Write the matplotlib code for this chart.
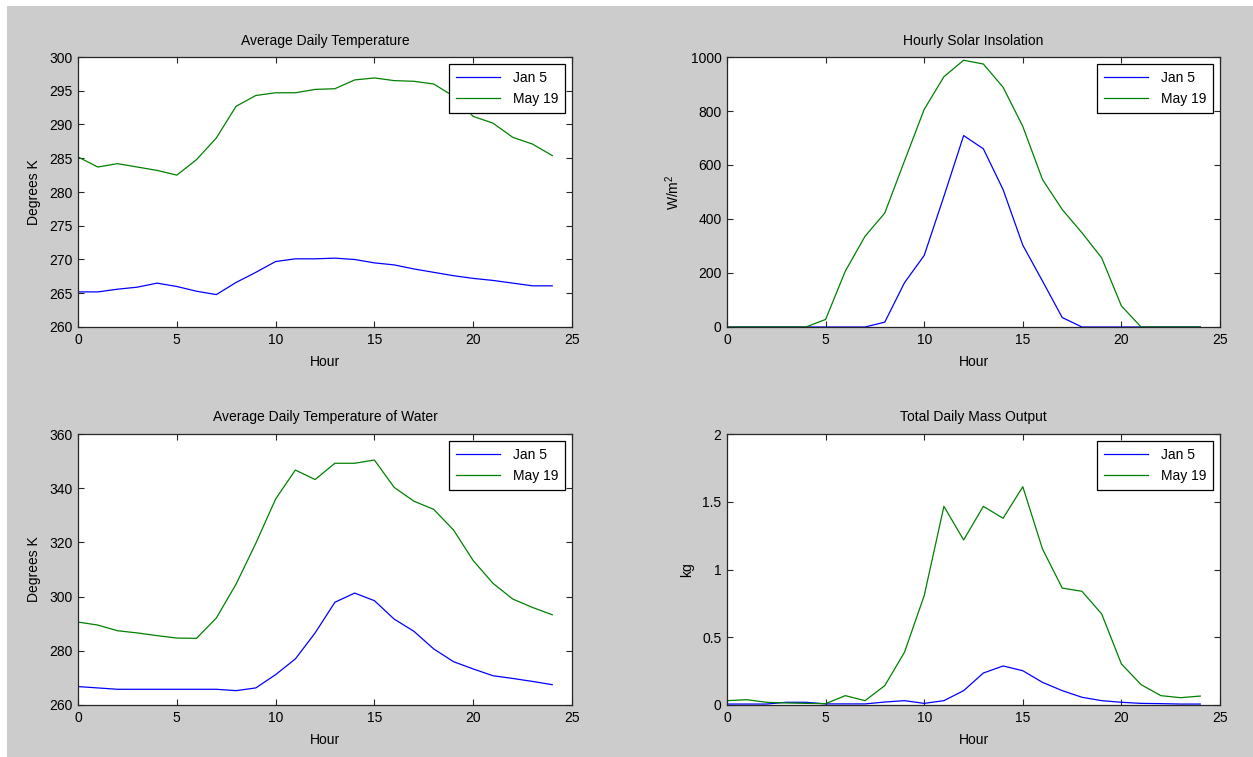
import matplotlib
matplotlib.use("Agg")
import matplotlib.pyplot as plt
from matplotlib.patches import Rectangle

hours = list(range(25))
labels = ["Jan 5", "May 19"]

# average daily air temperature (K)
air_jan = [265.2, 265.2, 265.6, 265.9, 266.5, 266.0, 265.3, 264.8, 266.6, 268.1,
           269.7, 270.1, 270.1, 270.2, 270.0, 269.5, 269.2, 268.6, 268.1, 267.6,
           267.2, 266.9, 266.5, 266.1, 266.1]
air_may = [285.2, 283.7, 284.2, 283.7, 283.2, 282.5, 284.8, 288.0, 292.7, 294.3,
           294.7, 294.7, 295.2, 295.3, 296.6, 296.9, 296.5, 296.4, 296.0, 294.2,
           291.2, 290.2, 288.1, 287.1, 285.4]

# hourly solar insolation (W/m^2)
sun_jan = [0, 0, 0, 0, 0, 0, 0, 0, 18, 164,
           265, 484, 709, 660, 509, 303, 170, 35, 0, 0,
           0, 0, 0, 0, 0]
sun_may = [0, 0, 0, 0, 0, 28, 207, 336, 422, 615,
           806, 927, 988, 974, 888, 743, 546, 435, 349, 256,
           78, 0, 0, 0, 0]

# water temperature (K)
water_jan = [266.8, 266.3, 265.8, 265.8, 265.8, 265.8, 265.8, 265.8, 265.3, 266.3,
             271.2, 277.0, 286.6, 297.9, 301.3, 298.5, 291.7, 287.2, 280.7, 276.0,
             273.3, 270.8, 269.8, 268.7, 267.5]
water_may = [290.6, 289.5, 287.4, 286.6, 285.6, 284.7, 284.6, 292.1, 304.6, 319.7,
             336.0, 346.7, 343.2, 349.2, 349.2, 350.4, 340.3, 335.2, 332.2, 324.6,
             313.3, 304.9, 299.1, 296.0, 293.3]

# mass output (kg)
mass_jan = [0.007, 0.007, 0.007, 0.02, 0.02, 0.008, 0.008, 0.008, 0.022, 0.032,
            0.012, 0.032, 0.106, 0.236, 0.288, 0.253, 0.167, 0.106, 0.057, 0.032,
            0.02, 0.012, 0.01, 0.007, 0.007]
mass_may = [0.032, 0.039, 0.02, 0.015, 0.012, 0.01, 0.069, 0.032, 0.143, 0.389,
            0.807, 1.466, 1.218, 1.466, 1.378, 1.611, 1.151, 0.863, 0.839, 0.672,
            0.303, 0.150, 0.069, 0.054, 0.066]

panels = [
    ("Average Daily Temperature", "Degrees K", air_jan, air_may, (260, 300), list(range(260, 301, 5))),
    ("Hourly Solar Insolation", "W/m$^2$", sun_jan, sun_may, (0, 1000), list(range(0, 1001, 200))),
    ("Average Daily Temperature of Water", "Degrees K", water_jan, water_may, (260, 360), list(range(260, 361, 20))),
    ("Total Daily Mass Output", "kg", mass_jan, mass_may, (0, 2), [0, 0.5, 1, 1.5, 2]),
]

plt.rcParams["font.family"] = ["Liberation Sans", "DejaVu Sans"]
plt.rcParams["font.size"] = 10
plt.rcParams["mathtext.fontset"] = "custom"
plt.rcParams["mathtext.rm"] = "Liberation Sans"

W, H = 1253, 757
fig = plt.figure(figsize=(W / 100, H / 100), dpi=100, facecolor="white")
fig.patches.append(Rectangle((7 / W, 0), 1 - 7 / W, 1 - 6 / H, transform=fig.transFigure,
                             facecolor="#cccccc", edgecolor="none", zorder=-10))

# axes boxes in pixels: left, top, right, bottom
boxes = [(78, 57, 572, 327), (727, 57, 1220, 327), (78, 434, 572, 705), (727, 434, 1220, 705)]

for (title, ylab, jan, may, ylim, yticks), (l, t, r, b) in zip(panels, boxes):
    ax = fig.add_axes([l / W, 1 - b / H, (r - l) / W, (b - t) / H])
    ax.plot(hours, jan, color="#0000ff", lw=0.9, label=labels[0])
    ax.plot(hours, may, color="#008000", lw=0.9, label=labels[1])
    ax.set_xlim(0, 25)
    ax.set_ylim(*ylim)
    ax.set_xticks([0, 5, 10, 15, 20, 25])
    ax.set_yticks(yticks)
    ax.set_yticklabels([f"{v:g}" for v in yticks])
    ax.tick_params(direction="in", top=True, right=True, length=4, width=0.8,
                   labelsize=10, colors="#262626", labelcolor="black", pad=4)
    for s in ax.spines.values():
        s.set_color("#262626")
        s.set_linewidth(0.9)
    ax.set_title(title, fontsize=10, pad=9)
    ax.set_xlabel("Hour", labelpad=6)
    ax.set_ylabel(ylab, labelpad=6)
    leg = ax.legend(loc="upper right", fancybox=False, framealpha=1, edgecolor="black",
                    handlelength=3.2, borderpad=0.5, labelspacing=0.5, borderaxespad=0.5,
                    handletextpad=0.9, fontsize=10)
    leg.get_frame().set_linewidth(0.9)

fig.savefig("out.png", dpi=100, facecolor=fig.get_facecolor())
